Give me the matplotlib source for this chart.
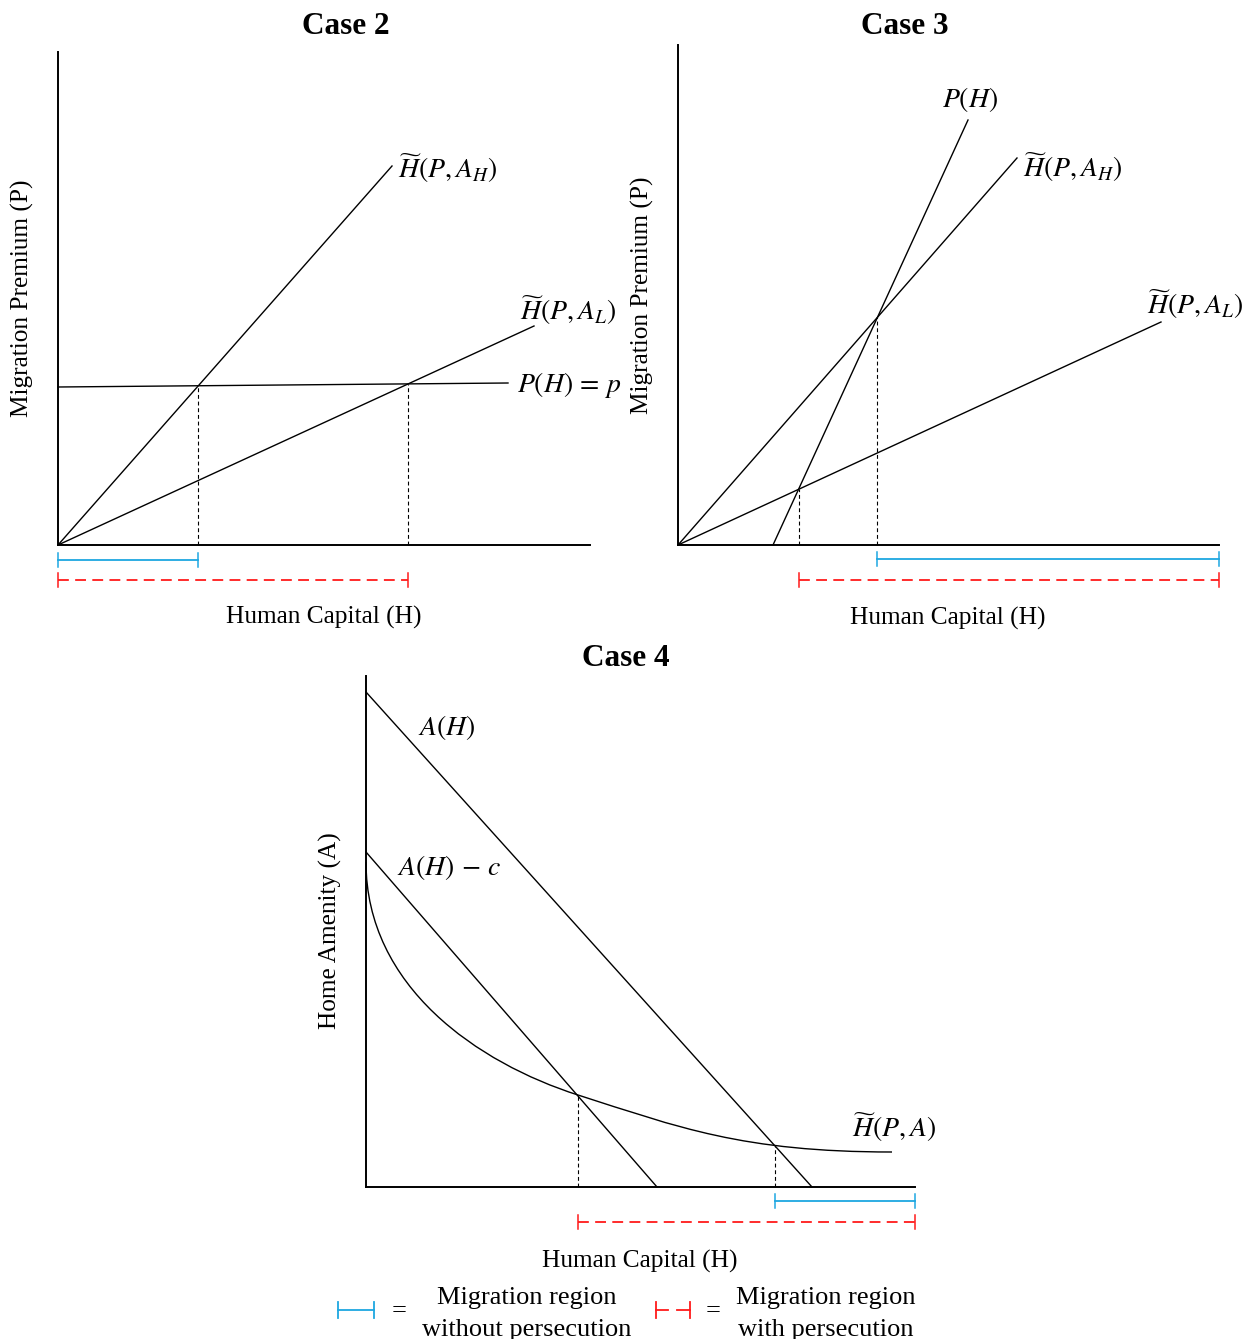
import matplotlib
matplotlib.use('Agg')
import matplotlib.pyplot as plt
from matplotlib.path import Path
from matplotlib.patches import PathPatch
from matplotlib.lines import Line2D

plt.rcParams['font.family'] = ['Liberation Serif', 'DejaVu Serif']
plt.rcParams['mathtext.fontset'] = 'stix'

W, H = 1243, 1339
BLUE = '#1ea7e1'
RED = '#ff1a1a'

# ---- data (schematic units) ----
# Case 2
c2_h_ah = [(0, 0), (33.4, 37.9)]
c2_h_al = [(0, 0), (47.6, 21.9)]
c2_p = [(0, 15.8), (45.0, 16.2)]
# Case 3
c3_h_ah = [(0, 0), (33.9, 38.7)]
c3_p = [(9.5, 0), (29.0, 42.5)]
c3_h_al = [(0, 0), (48.3, 22.3)]
# Case 4
c4_a = [(0, 49.5), (44.6, 0)]
c4_ac = [(0, 33.5), (29.1, 0)]
# H~(P,A) curve as two cubic bezier pieces (control points)
c4_curve = [(0, 32.5), (0, 20.0), (11.2, 12.4), (21.2, 9.2),
            (31.2, 6.0), (37.6, 3.5), (52.6, 3.5)]
c4_cut = [21.2, 40.9]


def cross(l1, l2):
    (x1, y1), (x2, y2) = l1
    (x3, y3), (x4, y4) = l2
    m1 = (y2 - y1) / (x2 - x1)
    m2 = (y4 - y3) / (x4 - x3)
    x = (y3 - y1 + m1 * x1 - m2 * x3) / (m1 - m2)
    return x, y1 + m1 * (x - x1)


def on_line(l, x):
    (x1, y1), (x2, y2) = l
    return y1 + (y2 - y1) / (x2 - x1) * (x - x1)


fig = plt.figure(figsize=(W / 100, H / 100), dpi=100)


def panel(left, top, right, bottom, xmax, ymax):
    ax = fig.add_axes([left / W, 1 - bottom / H, (right - left) / W, (bottom - top) / H])
    ax.set_xlim(0, xmax)
    ax.set_ylim(0, ymax)
    for s in ['top', 'right']:
        ax.spines[s].set_visible(False)
    for s in ['left', 'bottom']:
        ax.spines[s].set_linewidth(1.4)
    ax.set_xticks([])
    ax.set_yticks([])
    ax.patch.set_alpha(0)
    return ax


def seg(ax, l):
    ax.plot([p[0] for p in l], [p[1] for p in l], color='black', lw=1.0, clip_on=False)


def drop(ax, x, y):
    ax.plot([x, x], [0, y], color='black', lw=0.8, ls=(0, (3.5, 2.5)), clip_on=False)


def interval(ax, a, b, y, color, dashed):
    ls = (0, (6, 3.5)) if dashed else '-'
    ax.plot([a, b], [y, y], color=color, lw=1.3, ls=ls, clip_on=False)
    for x in (a, b):
        ax.plot([x, x], [y - 0.7, y + 0.7], color=color, lw=1.1, clip_on=False)


def lab(ax, x, y, s):
    ax.text(x, y, s, fontsize=20, ha='left', va='center', clip_on=False)


def ftext(x, y, s, **kw):
    fig.text(x / W, 1 - y / H, s, ha='center', va='center', **kw)


# ---- Case 2 ----
ax2 = panel(58, 52, 590, 545, 53.2, 49.3)
for l in (c2_h_ah, c2_h_al, c2_p):
    seg(ax2, l)
k1 = cross(c2_h_ah, c2_p)
k2 = cross(c2_h_al, c2_p)
drop(ax2, *k1)
drop(ax2, *k2)
interval(ax2, 0, k1[0], -1.5, BLUE, False)
interval(ax2, 0, k2[0], -3.5, RED, True)
lab(ax2, c2_h_ah[1][0] + 0.6, c2_h_ah[1][1] - 0.2, r'$\widetilde{H}(P,A_H)$')
lab(ax2, c2_h_al[1][0] - 1.4, c2_h_al[1][1] + 1.6, r'$\widetilde{H}(P,A_L)$')
lab(ax2, c2_p[1][0] + 0.9, c2_p[1][1] - 0.2, r'$P(H)\,=\,p$')
ftext(346, 27, 'Case 2', fontsize=22.5, fontweight='bold')
ftext(324, 617, 'Human Capital (H)', fontsize=18.3)
ftext(22, 298, 'Migration Premium (P)', fontsize=18.2, rotation=90)

# ---- Case 3 ----
ax3 = panel(678, 45, 1219, 545, 54.1, 50.0)
for l in (c3_h_ah, c3_p, c3_h_al):
    seg(ax3, l)
k1 = cross(c3_p, c3_h_ah)
k2 = cross(c3_p, c3_h_al)
drop(ax3, *k1)
drop(ax3, *k2)
interval(ax3, k1[0], 54.1, -1.4, BLUE, False)
interval(ax3, k2[0], 54.1, -3.5, RED, True)
lab(ax3, c3_p[1][0] - 2.6, c3_p[1][1] + 2.1, r'$P(H)$')
lab(ax3, c3_h_ah[1][0] + 0.6, c3_h_ah[1][1] - 0.9, r'$\widetilde{H}(P,A_H)$')
lab(ax3, c3_h_al[1][0] - 1.4, c3_h_al[1][1] + 1.8, r'$\widetilde{H}(P,A_L)$')
ftext(905, 27, 'Case 3', fontsize=22.5, fontweight='bold')
ftext(948, 618, 'Human Capital (H)', fontsize=18.3)
ftext(642, 295, 'Migration Premium (P)', fontsize=18.2, rotation=90)

# ---- Case 4 ----
ax4 = panel(366, 676, 915, 1187, 54.9, 51.1)
seg(ax4, c4_a)
seg(ax4, c4_ac)
codes = [Path.MOVETO] + [Path.CURVE4] * (len(c4_curve) - 1)
ax4.add_patch(PathPatch(Path(c4_curve, codes), fill=False, edgecolor='black', lw=1.0, clip_on=False))
drop(ax4, c4_cut[0], on_line(c4_ac, c4_cut[0]))
drop(ax4, c4_cut[1], on_line(c4_a, c4_cut[1]))
interval(ax4, c4_cut[1], 54.9, -1.4, BLUE, False)
interval(ax4, c4_cut[0], 54.9, -3.5, RED, True)
lab(ax4, 5.2, 45.9, r'$A(H)$')
lab(ax4, 3.1, 31.9, r'$A(H)\,-\,c$')
lab(ax4, c4_curve[-1][0] - 4.0, c4_curve[-1][1] + 2.5, r'$\widetilde{H}(P,A)$')
ftext(626, 659, 'Case 4', fontsize=22.5, fontweight='bold')
ftext(640, 1261, 'Human Capital (H)', fontsize=18.3)
ftext(330, 931, 'Home Amenity (A)', fontsize=18.2, rotation=90)

# ---- legend ----
def fline(xs, ys, **kw):
    fig.add_artist(Line2D([x / W for x in xs], [1 - y / H for y in ys], transform=fig.transFigure, **kw))


fline([338, 374], [1310, 1310], color=BLUE, lw=1.3)
fline([338, 338], [1302, 1318], color=BLUE, lw=1.3)
fline([374, 374], [1302, 1318], color=BLUE, lw=1.3)
fline([656, 668], [1310, 1310], color=RED, lw=1.3)
fline([677, 690], [1310, 1310], color=RED, lw=1.3)
fline([656, 656], [1302, 1318], color=RED, lw=1.3)
fline([690, 690], [1302, 1318], color=RED, lw=1.3)
ftext(399, 1311, '=', fontsize=19)
ftext(713, 1311, '=', fontsize=19)
ftext(527, 1314, 'Migration region\nwithout persecution', fontsize=19, linespacing=1.6)
ftext(826, 1314, 'Migration region\nwith persecution', fontsize=19, linespacing=1.6)

fig.savefig('out.png', dpi=100)
